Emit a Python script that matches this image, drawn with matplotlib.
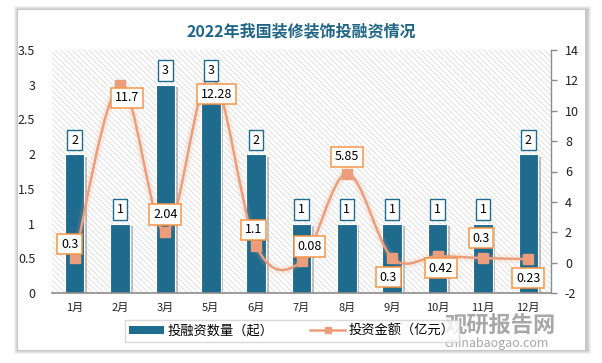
import numpy as np
import matplotlib
matplotlib.use("Agg")
import matplotlib.pyplot as plt
import matplotlib.patheffects as pe
from matplotlib.path import Path
from matplotlib.patches import PathPatch, Rectangle

plt.rcParams['font.family'] = ['Noto Sans CJK SC', 'DejaVu Sans']
plt.rcParams['hatch.linewidth'] = 0.5
plt.rcParams['axes.unicode_minus'] = False

months = ['1月', '2月', '3月', '5月', '6月', '7月', '8月', '9月', '10月', '11月', '12月']
deals = [2, 1, 3, 3, 2, 1, 1, 1, 1, 1, 2]
amount = [0.3, 11.7, 2.04, 12.28, 1.1, 0.08, 5.85, 0.3, 0.42, 0.3, 0.23]
amount_text = ['0.3', '11.7', '2.04', '12.28', '1.1', '0.08', '5.85', '0.3', '0.42', '0.3', '0.23']
# label offsets in pixels from the marker
amount_off = [(-5, 14), (7, -13), (0, 17), (6, -18), (-3, 16), (8, 15),
              (0, 17), (-4, -19), (3, -12), (-2, 20), (0, -19)]

bar_c = '#1E6B8E'
line_c = '#EC9E7C'
lab_c = '#F79646'

fig = plt.figure(figsize=(6.02, 3.63), dpi=100)
fig.patch.set_facecolor('white')

# card with soft shadow
for i, a in enumerate([0.05, 0.05, 0.06, 0.07]):
    g = 4 - i
    fig.patches.append(Rectangle(((18 - g) / 602, (13 - g) / 363), (567 + 2 * g + 2) / 602, (340 + 2 * g) / 363,
                                 transform=fig.transFigure, facecolor='black', alpha=a, edgecolor='none', zorder=-10))
fig.patches.append(Rectangle((18 / 602, 13 / 363), 567 / 602, 340 / 363, transform=fig.transFigure,
                             facecolor='white', edgecolor='none', zorder=-9))

ax = fig.add_axes([52 / 602, 70 / 363, 499 / 602, 243 / 363])
ax.patch.set_facecolor('white')
ax.patch.set_hatch('\\\\\\\\\\\\')
ax.patch.set_edgecolor('#d6d6d6')
ax.patch.set_linewidth(0)

x = np.arange(len(months))
bars = ax.bar(x, deals, width=0.43, color=bar_c, edgecolor='white', linewidth=0.8, zorder=2)
for b in bars:
    b.set_path_effects([pe.SimplePatchShadow(offset=(2, -2), shadow_rgbFace='#555555', alpha=0.35), pe.Normal()])

ax.set_xlim(-0.5, 10.5)
ax.set_ylim(0, 3.5)
ax.set_yticks(np.arange(0, 3.51, 0.5))
ax.set_yticklabels(['0', '0.5', '1', '1.5', '2', '2.5', '3', '3.5'])
ax.set_xticks(x)
ax.set_xticklabels(months)
ax.tick_params(axis='y', length=0, pad=12, labelsize=9, colors='#222222')
ax.tick_params(axis='x', length=0, pad=7, labelsize=8, colors='#222222')
for s in ['top', 'left', 'right']:
    ax.spines[s].set_visible(False)
ax.spines['bottom'].set_color('#8c8c8c')
ax.spines['bottom'].set_linewidth(1.2)

ax2 = ax.twinx()
ax2.set_zorder(ax.get_zorder() + 1)
ax2.patch.set_visible(False)
ax2.set_ylim(-2, 14)
ax2.set_yticks(np.arange(-2, 14.1, 2))
ax2.tick_params(axis='y', length=4, width=1, direction='out', pad=6, labelsize=9, colors='#222222')
ax2.tick_params(axis='y', color='#8c8c8c')
for s in ['top', 'left', 'bottom']:
    ax2.spines[s].set_visible(False)
ax2.spines['right'].set_color('#8c8c8c')
ax2.spines['right'].set_linewidth(1)

# smooth line as cubic bezier segments (catmull-rom control points)
pts = np.column_stack([x, amount]).astype(float)
ext = np.vstack([pts[0], pts, pts[-1]])
verts = [tuple(pts[0])]
codes = [Path.MOVETO]
for i in range(len(pts) - 1):
    p0, p1, p2, p3 = ext[i], ext[i + 1], ext[i + 2], ext[i + 3]
    c1 = p1 + (p2 - p0) / 6
    c2 = p2 - (p3 - p1) / 6
    verts += [tuple(c1), tuple(c2), tuple(p2)]
    codes += [Path.CURVE4] * 3
curve = PathPatch(Path(verts, codes), facecolor='none', edgecolor=line_c, linewidth=1.8, zorder=3)
curve.set_path_effects([pe.Stroke(linewidth=6, foreground=line_c, alpha=0.15), pe.Normal()])
ax2.add_patch(curve)
ax2.plot(x, amount, linestyle='none', marker='s', markersize=7, color=line_c, zorder=4)

# bar value labels
for xi, v in zip(x, deals):
    ax2.annotate(str(v), xy=(xi, v), xycoords=ax.transData, xytext=(0, 14), textcoords='offset pixels',
                 ha='center', va='center', fontsize=9, color='black', zorder=6,
                 bbox=dict(boxstyle='square,pad=0.3', facecolor='white', edgecolor=bar_c, linewidth=1))

# amount labels
for xi, v, t, off in zip(x, amount, amount_text, amount_off):
    ax2.annotate(t, xy=(xi, v), xytext=off, textcoords='offset pixels',
                 ha='center', va='center', fontsize=9, color='black', zorder=7,
                 bbox=dict(boxstyle='square,pad=0.3', facecolor='white', edgecolor=lab_c, linewidth=1.1))

fig.text(0.5, 1 - 31 / 363, '2022年我国装修装饰投融资情况', ha='center', va='center',
         fontsize=11.5, fontweight='bold', color='#1F6585')

# legend
h1 = Rectangle((0, 0), 1, 1, facecolor=bar_c)
h2 = plt.Line2D([], [], color=line_c, marker='s', markersize=5, linewidth=1.8)
leg = fig.legend([h1, h2], ['投融资数量（起）', '投资金额（亿元）'], loc='center', ncol=2,
                 bbox_to_anchor=(292 / 602, 1 - 331 / 363), fontsize=9.5, frameon=True, fancybox=False,
                 edgecolor='#d0d0d0', handlelength=2.6, handleheight=0.5, columnspacing=2.8,
                 borderpad=0.35, handletextpad=0.3)
leg.get_frame().set_linewidth(1)

# watermark
fig.text(500 / 602, 1 - 326 / 363, '观研报告网', ha='center', va='center', fontsize=16,
         fontweight='bold', color='#8a8a8a', alpha=0.75)
fig.text(497 / 602, 1 - 344 / 363, 'chinabaogao.com', ha='center', va='center', fontsize=9,
         color='#8a8a8a', alpha=0.75)

fig.savefig('out.png', dpi=100)
